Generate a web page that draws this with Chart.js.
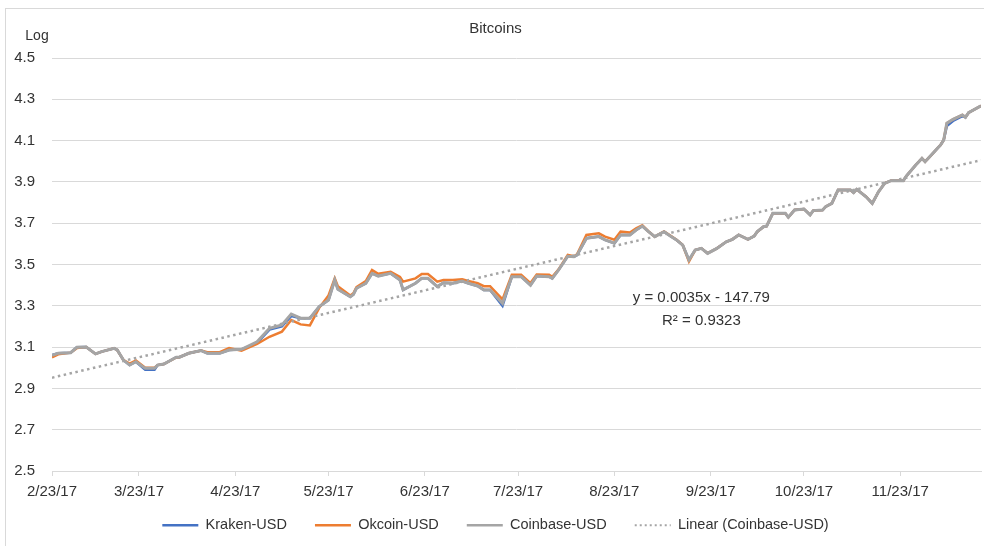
<!DOCTYPE html>
<html>
<head>
<meta charset="utf-8">
<script src="https://cdn.jsdelivr.net/npm/chart.js@4"></script>
<style>
  html, body { margin: 0; padding: 0; background: #fff; overflow: hidden; }
  #frame { position: absolute; left: 5px; top: 8px; width: 1000px; height: 600px; border: 1px solid #d9d9d9; }
  #btcChart { position: absolute; left: 0; top: 0; }
</style>
</head>
<body>
<div id="frame"></div>
<canvas id="btcChart" width="984" height="546"></canvas>
<script>
// days counted from 2/23/17
var days = [
    0, 2, 6, 8, 11, 14, 16, 20, 21, 23,
    25, 27, 30, 33, 34, 36, 40, 41, 44, 48,
    50, 54, 57, 61, 66, 70, 74, 77, 80, 83,
    86, 89, 91, 92, 96, 97, 98, 101, 103, 105,
    109, 112, 113, 117, 119, 121, 124, 126, 129, 132,
    134, 137, 139, 141, 145, 148, 151, 154, 156, 160,
    161, 163, 166, 168, 169, 172, 176, 178, 181, 183,
    186, 188, 190, 192, 194, 197, 199, 201, 203, 205,
    207, 209, 211, 214, 217, 219, 221, 224, 226, 227,
    229, 230, 232, 236, 237, 239, 242, 244, 245, 248,
    249, 251, 253, 257, 258, 259, 262, 264, 266, 268,
    270, 274, 275, 278, 280, 281, 283, 285, 286, 287,
    288, 290, 293, 294, 295, 299
];

var coinbase = [
    3.060, 3.070, 3.073, 3.099, 3.100, 3.067, 3.078, 3.094, 3.086, 3.037,
    3.013, 3.029, 2.997, 2.997, 3.013, 3.018, 3.051, 3.051, 3.070, 3.083,
    3.070, 3.070, 3.086, 3.089, 3.126, 3.191, 3.207, 3.260, 3.240, 3.240,
    3.296, 3.328, 3.425, 3.380, 3.344, 3.355, 3.385, 3.409, 3.457, 3.444,
    3.457, 3.425, 3.377, 3.409, 3.433, 3.433, 3.393, 3.412, 3.409, 3.420,
    3.409, 3.396, 3.377, 3.377, 3.312, 3.441, 3.441, 3.400, 3.444, 3.441,
    3.433, 3.473, 3.540, 3.538, 3.546, 3.627, 3.635, 3.619, 3.603, 3.643,
    3.643, 3.667, 3.686, 3.659, 3.635, 3.659, 3.638, 3.619, 3.594, 3.522,
    3.570, 3.578, 3.554, 3.578, 3.610, 3.622, 3.643, 3.622, 3.638, 3.659,
    3.683, 3.686, 3.748, 3.748, 3.729, 3.764, 3.769, 3.740, 3.761, 3.764,
    3.780, 3.796, 3.861, 3.861, 3.848, 3.864, 3.828, 3.796, 3.852, 3.893,
    3.906, 3.906, 3.929, 3.982, 4.014, 3.998, 4.030, 4.063, 4.079, 4.103,
    4.184, 4.203, 4.224, 4.213, 4.235, 4.268
];

var okcoin = [
    3.050, 3.065, 3.073, 3.095, 3.100, 3.067, 3.078, 3.094, 3.086, 3.037,
    3.020, 3.035, 3.000, 3.000, 3.013, 3.018, 3.050, 3.051, 3.070, 3.083,
    3.075, 3.075, 3.095, 3.083, 3.115, 3.150, 3.175, 3.231, 3.210, 3.205,
    3.290, 3.350, 3.433, 3.395, 3.350, 3.360, 3.390, 3.420, 3.473, 3.455,
    3.465, 3.440, 3.417, 3.433, 3.454, 3.454, 3.417, 3.425, 3.425, 3.428,
    3.420, 3.410, 3.395, 3.395, 3.331, 3.450, 3.450, 3.410, 3.452, 3.450,
    3.440, 3.475, 3.546, 3.540, 3.550, 3.643, 3.651, 3.635, 3.620, 3.659,
    3.655, 3.675, 3.690, 3.660, 3.635, 3.660, 3.640, 3.620, 3.594, 3.515,
    3.570, 3.578, 3.554, 3.578, 3.610, 3.622, 3.643, 3.622, 3.638, 3.659,
    3.683, 3.686, 3.748, 3.748, 3.729, 3.764, 3.769, 3.740, 3.761, 3.764,
    3.780, 3.796, 3.861, 3.861, 3.848, 3.864, 3.828, 3.796, 3.852, 3.893,
    3.906, 3.906, 3.929, 3.982, 4.014, 3.998, 4.030, 4.063, 4.079, 4.103,
    4.184, 4.203, 4.224, 4.213, 4.235, 4.268
];

var kraken = [
    3.062, 3.070, 3.073, 3.099, 3.100, 3.067, 3.078, 3.094, 3.086, 3.037,
    3.013, 3.029, 2.990, 2.990, 3.013, 3.018, 3.051, 3.051, 3.070, 3.083,
    3.070, 3.070, 3.086, 3.089, 3.120, 3.185, 3.200, 3.250, 3.240, 3.240,
    3.296, 3.328, 3.425, 3.380, 3.344, 3.355, 3.385, 3.409, 3.457, 3.444,
    3.457, 3.425, 3.377, 3.409, 3.433, 3.433, 3.393, 3.412, 3.409, 3.420,
    3.409, 3.396, 3.377, 3.377, 3.300, 3.441, 3.441, 3.400, 3.444, 3.441,
    3.433, 3.473, 3.540, 3.538, 3.546, 3.627, 3.635, 3.619, 3.603, 3.643,
    3.643, 3.667, 3.686, 3.659, 3.635, 3.659, 3.638, 3.619, 3.594, 3.522,
    3.570, 3.578, 3.554, 3.578, 3.610, 3.622, 3.643, 3.622, 3.638, 3.659,
    3.683, 3.686, 3.748, 3.748, 3.729, 3.764, 3.769, 3.740, 3.761, 3.764,
    3.780, 3.796, 3.861, 3.861, 3.848, 3.864, 3.828, 3.796, 3.852, 3.893,
    3.906, 3.906, 3.929, 3.982, 4.014, 3.998, 4.030, 4.063, 4.079, 4.103,
    4.170, 4.195, 4.218, 4.213, 4.235, 4.268
];

// linear trend (Coinbase-USD), ends
var trendDays = [0, 299];
var trendValues = [2.952, 4.005];

var tickDays = [0, 28, 59, 89, 120, 150, 181, 212, 242, 273];
var tickLabels = ['2/23/17', '3/23/17', '4/23/17', '5/23/17', '6/23/17',
                  '7/23/17', '8/23/17', '9/23/17', '10/23/17', '11/23/17'];

var equationText = 'y = 0.0035x - 147.79';
var rSquaredText = 'R\u00B2 = 0.9323';
var equationDay = 209;
var equationValue = 3.34;

var FONT = '"Liberation Sans", Arial, sans-serif';
var TEXT = '#333333';
var GRID = '#d9d9d9';

function toPoints(xs, ys) {
    return xs.map((d, i) => ({ x: d, y: ys[i] }));
}

// "Log" over the value axis and the trendline equation
const extraText = {
    id: 'extraText',
    afterDraw(chart) {
        const { ctx, chartArea, scales } = chart;
        ctx.save();
        ctx.fillStyle = TEXT;
        ctx.textAlign = 'center';
        ctx.textBaseline = 'middle';
        ctx.font = '14px ' + FONT;
        ctx.fillText('Log', chartArea.left - 15, chartArea.top - 22);
        const ex = scales.x.getPixelForValue(equationDay);
        const ey = scales.y.getPixelForValue(equationValue);
        ctx.font = '15px ' + FONT;
        ctx.fillText(equationText, ex, ey);
        ctx.fillText(rSquaredText, ex, ey + 23);
        ctx.restore();
    }
};

// legend keeps wide gaps between items, so pull its row up a little
const legendLift = {
    id: 'legendLift',
    afterLayout(chart) {
        chart.legend.top -= 12;
    }
};

var ctx = document.getElementById('btcChart').getContext('2d');
var chart = new Chart(ctx, {
    type: 'line',
    data: {
        datasets: [
            {
                label: 'Kraken-USD',
                data: toPoints(days, kraken),
                borderColor: '#4472C4',
                borderWidth: 2.5,
                pointRadius: 0,
                order: 3,
            },
            {
                label: 'Okcoin-USD',
                data: toPoints(days, okcoin),
                borderColor: '#ED7D31',
                borderWidth: 2.5,
                pointRadius: 0,
                order: 2,
            },
            {
                label: 'Coinbase-USD',
                data: toPoints(days, coinbase),
                borderColor: '#A5A5A5',
                borderWidth: 3,
                pointRadius: 0,
                order: 1,
            },
            {
                label: 'Linear (Coinbase-USD)',
                data: toPoints(trendDays, trendValues),
                borderColor: '#A5A5A5',
                borderWidth: 2.5,
                borderDash: [2.5, 3.5],
                pointRadius: 0,
                order: 0,
            },
        ],
    },
    options: {
        responsive: false,
        animation: false,
        layout: {
            padding: { left: 10, right: 3, top: 0, bottom: 4 },
        },
        plugins: {
            title: {
                display: true,
                text: 'Bitcoins',
                color: TEXT,
                font: { family: FONT, size: 15, weight: 'normal' },
                padding: { top: 20, bottom: 20 },
            },
            legend: {
                position: 'bottom',
                maxHeight: 40,
                labels: {
                    usePointStyle: true,
                    pointStyle: 'line',
                    pointStyleWidth: 36,
                    padding: 28,
                    color: TEXT,
                    font: { family: FONT, size: 14.5 },
                    sort: (a, b) => a.datasetIndex - b.datasetIndex,
                    generateLabels: (chart) => {
                        var items = Chart.defaults.plugins.legend.labels.generateLabels(chart);
                        items.forEach(item => {
                            var ds = chart.data.datasets[item.datasetIndex];
                            item.strokeStyle = ds.borderColor;
                            item.lineDash = ds.borderDash ? [2, 3] : [];
                            item.lineWidth = ds.borderDash ? 2 : 2.5;
                        });
                        return items;
                    },
                },
            },
            tooltip: { enabled: false },
        },
        scales: {
            x: {
                type: 'linear',
                min: 0,
                max: 299,
                afterBuildTicks: (axis) => {
                    axis.ticks = tickDays.map(v => ({ value: v }));
                },
                afterFit: (axis) => { axis.height = 31; },
                ticks: {
                    autoSkip: false,
                    maxRotation: 0,
                    minRotation: 0,
                    padding: 7,
                    color: TEXT,
                    font: { family: FONT, size: 15 },
                    callback: (value, index) => tickLabels[index],
                },
                grid: {
                    drawOnChartArea: false,
                    drawTicks: true,
                    tickLength: 5,
                    color: GRID,
                },
                border: { display: true, color: GRID },
            },
            y: {
                min: 2.5,
                max: 4.5,
                afterFit: (axis) => { axis.width = 42; },
                ticks: {
                    stepSize: 0.2,
                    padding: 17,
                    color: TEXT,
                    font: { family: FONT, size: 15 },
                    callback: (value) => value.toFixed(1),
                },
                grid: {
                    color: GRID,
                    drawTicks: false,
                },
                border: { display: false },
            },
        },
    },
    plugins: [extraText, legendLift],
});
</script>
</body>
</html>
